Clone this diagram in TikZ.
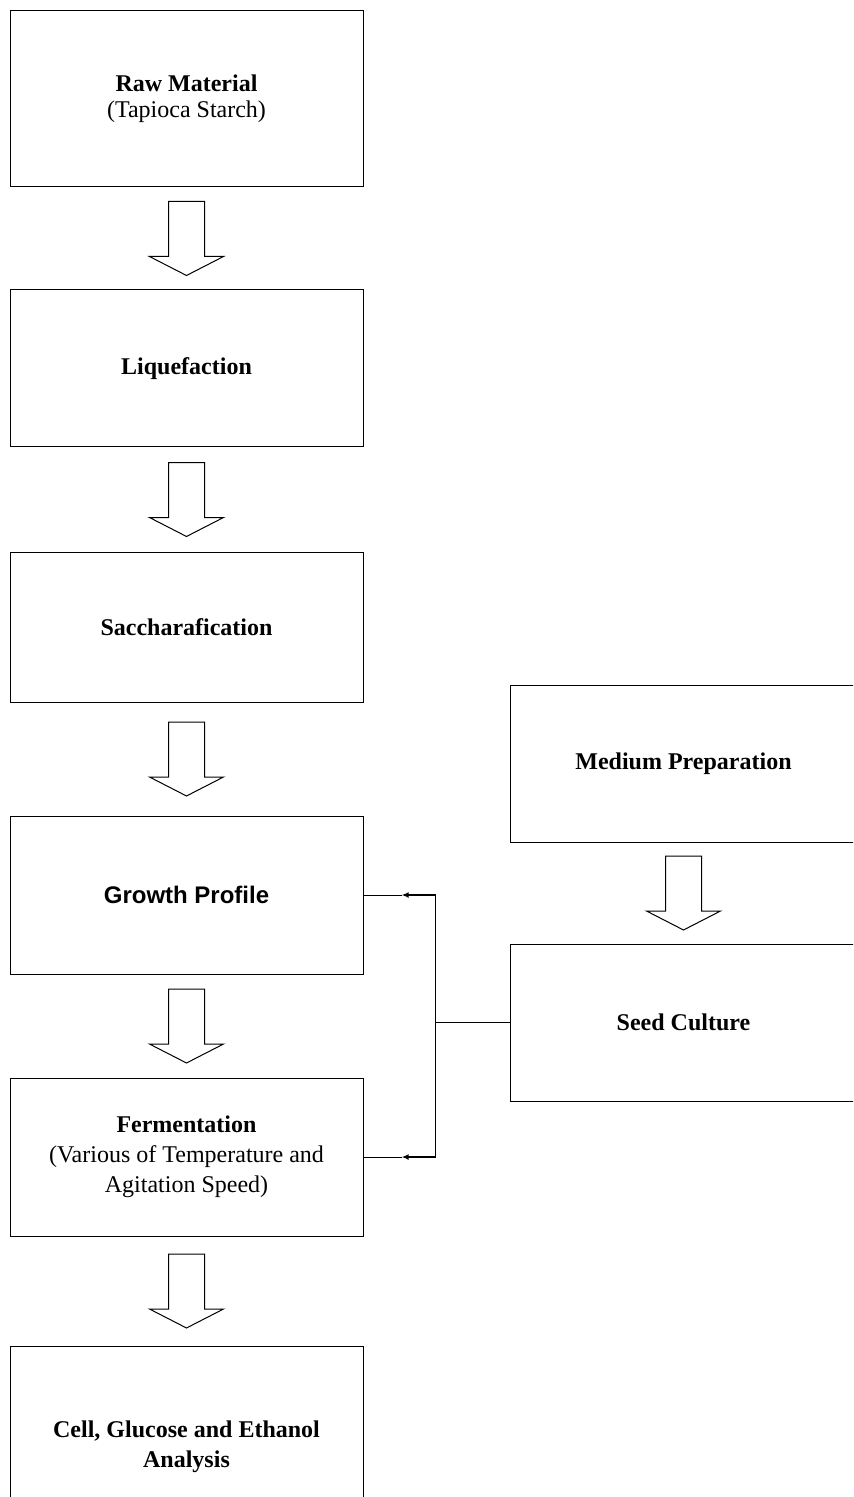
\documentclass[tikz,border=0pt]{standalone}
\usepackage{fontspec}
\setmainfont{Liberation Serif}
\newfontfamily\arialfont{Liberation Sans}
\usetikzlibrary{calc,arrows.meta}

\tikzset{
  stage/.style={draw, line width=0.5pt, minimum width=176.5pt, inner sep=0pt,
    align=center, font=\fontsize{12}{15}\selectfont},
  sidestage/.style={stage, minimum width=173.5pt},
  bigarrow/.style={draw, line width=0.5pt, fill=white, line join=miter},
  feed/.style={line width=0.5pt},
  feedtip/.style={line width=0.9pt, -{Latex[length=3.5pt,width=3pt]}}
}

% hollow block arrow centred in the gap between two boxes
\newcommand{\stagearrow}[2]{%
  \draw[bigarrow] ($(#1.south)!0.5!(#2.north)$) ++(-18,-37) -- ++(36,0) -- ++(0,55)
    -- ++(19,0) -- ++(-37,19) -- ++(-37,-19) -- ++(19,0) -- cycle;}

\begin{document}
\begin{tikzpicture}[x=0.5pt,y=-0.5pt]
  \clip (0,0) rectangle (853,1497);

  \node[stage, minimum height=88pt, font=\fontsize{12}{13}\selectfont] (raw) at (186.5,99) {\textbf{Raw Material}\\(Tapioca Starch)};
  \node[stage, minimum height=78.5pt] (liq) at (186.5,368.5) {\textbf{Liquefaction}};
  \node[stage, minimum height=75pt] (sac) at (186.5,627) {\textbf{Saccharafication}};
  \node[stage, minimum height=79pt] (growth) at (186.5,895) {\arialfont\bfseries Growth Profile};
  \node[stage, minimum height=79pt] (ferm) at (186.5,1157) {\textbf{Fermentation}\\(Various of Temperature and\\Agitation Speed)};
  \node[stage, minimum height=101pt] (anal) at (186.5,1447) {\textbf{Cell, Glucose and Ethanol}\\\textbf{Analysis}};

  \node[sidestage, minimum height=78.5pt] (med) at (683.5,763.5) {\textbf{Medium Preparation}};
  \node[sidestage, minimum height=78.5pt] (seed) at (683.5,1022.5) {\textbf{Seed Culture}};

  \stagearrow{raw}{liq}
  \stagearrow{liq}{sac}
  \stagearrow{sac}{growth}
  \stagearrow{growth}{ferm}
  \stagearrow{ferm}{anal}
  \stagearrow{med}{seed}

  % seed culture feeds both stages
  \coordinate (jn) at ($(seed.west)+(-74,0)$);
  \coordinate (jg) at (jn |- growth.east);
  \coordinate (jf) at (jn |- ferm.east);
  \coordinate (gtip) at ($(jg)!0.47!(growth.east)$);
  \coordinate (ftip) at ($(jf)!0.47!(ferm.east)$);

  \draw[feed] (seed.west) -- (jn);
  \draw[feed] (jg) -- (jf);
  \draw[feedtip] (jg) -- (gtip);
  \draw[feed] (gtip) -- (growth.east);
  \draw[feedtip] (jf) -- (ftip);
  \draw[feed] (ftip) -- (ferm.east);
\end{tikzpicture}
\end{document}
